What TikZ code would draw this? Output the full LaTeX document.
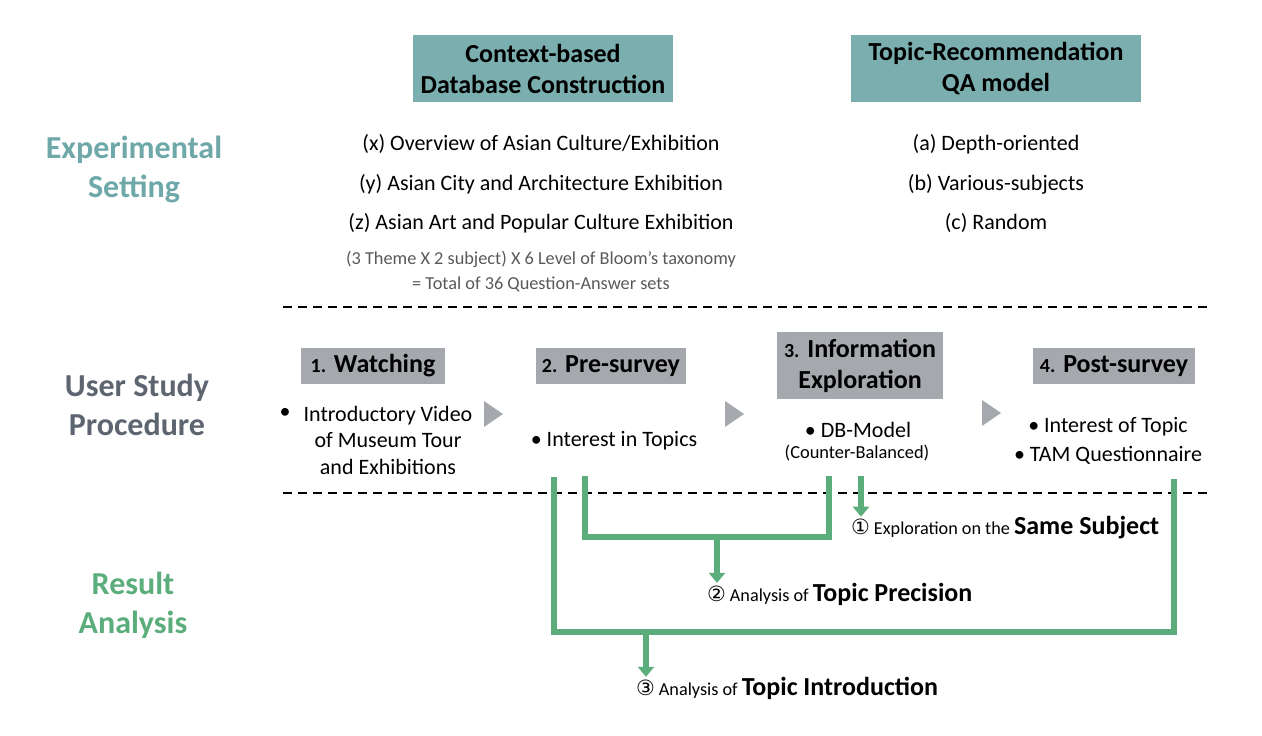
\documentclass[tikz,border=0pt]{standalone}
\usepackage{fontspec}
\setmainfont{Carlito}
\newfontfamily\symfont{DejaVu Sans}
\usetikzlibrary{arrows.meta}
\definecolor{headfill}{RGB}{122,174,175}
\definecolor{tealtext}{RGB}{111,168,169}
\definecolor{stepfill}{RGB}{165,168,173}
\definecolor{graytext}{RGB}{93,101,113}
\definecolor{notetext}{RGB}{89,89,89}
\definecolor{gcol}{RGB}{91,173,123}
\newcommand{\fs}[2]{\fontsize{#1}{#2}\selectfont}
\newcommand{\circd}[1]{{\symfont\fs{21}{22}#1}}
\begin{document}
\begin{tikzpicture}[x=1pt,y=-1pt,
  every node/.style={inner sep=0pt,outer sep=0pt},
  hbox/.style={fill=headfill,align=center,font=\fs{26}{31}\bfseries},
  sbox/.style={fill=stepfill,align=center,font=\fs{26}{31}\bfseries},
  sect/.style={align=center,font=\fs{32}{39}\bfseries},
  item/.style={font=\fs{22}{26.5}},
  note/.style={align=center,text=notetext,font=\fs{18.3}{25}},
  sepline/.style={dashed,dash pattern=on 9pt off 6pt,line width=1.4pt},
  gline/.style={draw=gcol,line width=6.5pt,line join=miter},
  garrow/.style={gline,-{Triangle[width=16pt,length=10pt]}},
  tri/.style={fill=stepfill},
  res/.style={anchor=west,font=\fs{18.2}{22}}
]
\useasboundingbox (0,0) rectangle (1262,736);

% section labels
\node[sect,text=tealtext] (s1) at (134,169) {Experimental\\Setting};
\node[sect,text=graytext] (s2) at (137,405) {User Study\\Procedure};
\node[sect,text=gcol] (s3) at (133,605) {Result\\Analysis};

% header boxes
\node[hbox,minimum width=260pt,minimum height=67pt] (h1) at (543,68.5) {Context-based\\Database Construction};
\node[hbox,minimum width=290pt,minimum height=67pt] (h2) at (996,68.5) {Topic-Recommendation\\QA model};

% lists
\node[item] (lx) at (541,144) {(x) Overview of Asian Culture/Exhibition};
\node[item] (ly) at (541,184) {(y) Asian City and Architecture Exhibition};
\node[item] (lz) at (541,223) {(z) Asian Art and Popular Culture Exhibition};
\node[note] (nt) at (541,271.5) {(3 Theme X 2 subject) X 6 Level of Bloom’s taxonomy\\= Total of 36 Question-Answer sets};
\node[item] (la) at (996,144) {(a) Depth-oriented};
\node[item] (lb) at (996,184) {(b) Various-subjects};
\node[item] (lc) at (996,223) {(c) Random};

% separators
\coordinate (d1a) at (283,307); \coordinate (d1b) at (1210,307);
\coordinate (d2a) at (283,493); \coordinate (d2b) at (1210,493);
\draw[sepline] (d1a) -- (d1b);
\draw[sepline] (d2a) -- (d2b);

% step boxes
\node[sbox,minimum width=144pt,minimum height=36pt] (b1) at (373,366) {{\fs{20}{31}1.} Watching};
\node[sbox,minimum width=150pt,minimum height=36pt] (b2) at (611,366) {{\fs{20}{31}2.} Pre-survey};
\node[sbox,minimum width=166pt,minimum height=67pt] (b3) at (860,365.5) {{\fs{20}{31}3.} Information\\Exploration};
\node[sbox,minimum width=162pt,minimum height=36pt] (b4) at (1114,366) {{\fs{20}{31}4.} Post-survey};

% step contents
\node[item] (bul1) at (285,413) {•};
\node[item,align=center] (t1) at (388,440) {Introductory Video\\of Museum Tour\\and Exhibitions};
\node[item] (t2) at (614,441) {• Interest in Topics};
\node[item] (t3) at (858,430) {• DB-Model};
\node[font=\fs{18.4}{22}] (t3b) at (857,453) {(Counter-Balanced)};
\node[item] (t4a) at (1108,427) {• Interest of Topic};
\node[item] (t4b) at (1108,455) {• TAM Questionnaire};

% gray arrow triangles
\fill[tri] (484,401) -- (503,414) -- (484,427) -- cycle;
\fill[tri] (725,401) -- (744,414) -- (725,427) -- cycle;
\fill[tri] (982,400) -- (1001,413) -- (982,426) -- cycle;

% result texts
\node[res] (r1) at (851,528) {\circd{①} Exploration on the {\fs{26}{28}\bfseries Same Subject}};
\node[res] (r2) at (707,594) {\circd{②} Analysis of {\fs{26}{28}\bfseries Topic Precision}};
\node[res] (r3) at (636,688) {\circd{③} Analysis of {\fs{26}{28}\bfseries Topic Introduction}};

% green connectors
\coordinate (ga1) at (554,477); \coordinate (ga2) at (554,632);
\coordinate (ga3) at (1174,632); \coordinate (ga4) at (1174,479);
\coordinate (gb1) at (585,476); \coordinate (gb2) at (585,537);
\coordinate (gb3) at (829,537); \coordinate (gb4) at (829,476);
\coordinate (gc1) at (861,476);
\coordinate (gbm) at (717,537); \coordinate (gam) at (646,632);
\draw[gline] (ga1) -- (ga2) -- (ga3) -- (ga4);
\draw[gline] (gb1) -- (gb2) -- (gb3) -- (gb4);
\draw[garrow] (gc1) -- (gc1 |- r1.north);
\draw[garrow] (gbm) -- (gbm |- r2.north);
\draw[garrow] (gam) -- (gam |- r3.north);
\end{tikzpicture}
\end{document}
